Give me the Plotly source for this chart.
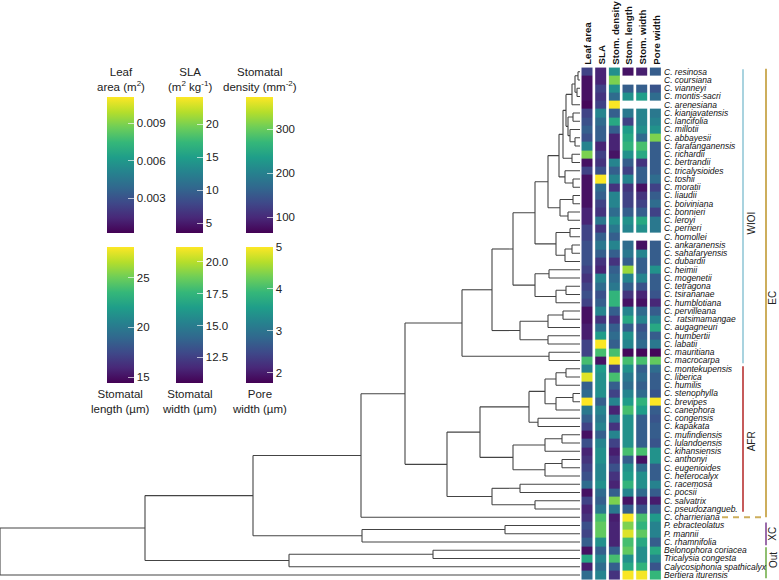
import plotly.graph_objects as go

W, H = 779, 580
FONT = "Liberation Sans"

species = [
    "C. resinosa", "C. coursiana", "C. vianneyi", "C. montis-sacri", "C. arenesiana",
    "C. kianjavatensis", "C. lancifolia", "C. millotii", "C. abbayesii", "C. farafanganensis",
    "C. richardii", "C. bertrandii", "C. tricalysioides", "C. toshii", "C. moratii",
    "C. liaudii", "C. boiviniana", "C. bonnieri", "C. leroyi", "C. perrieri",
    "C. homollei", "C. ankaranensis", "C. sahafaryensis", "C. dubardii", "C. heimii",
    "C. mogenetii", "C. tetragona", "C. tsirananae", "C. humblotiana", "C. pervilleana",
    "C.\u00a0 ratsimamangae", "C. augagneuri", "C. humbertii", "C. labatii", "C. mauritiana",
    "C. macrocarpa", "C. montekupensis", "C. liberica", "C. humilis", "C. stenophylla",
    "C. brevipes", "C. canephora", "C. congensis", "C. kapakata", "C. mufindiensis",
    "C. lulandoensis", "C. kihansiensis", "C. anthonyi", "C. eugenioides", "C. heterocalyx",
    "C. racemosa", "C. pocsii", "C. salvatrix", "C. pseudozangueb.", "C. charrieriana",
    "P. ebracteolatus", "P. mannii", "C. rhamnifolia", "Belonophora coriacea", "Tricalysia congesta",
    "Calycosiphonia spathicalyx", "Bertiera iturensis",
]

trait_names = ["Leaf area", "SLA", "Stom. density", "Stom. length", "Stom. width", "Pore width"]

leaf_area = [0.0024, 0.0007, 0.0007, 0.0007, 0.0004, 0.0024, 0.0029, 0.0035, 0.0029, 0.0051,
             0.0089, 0.0007, 0.0024, 0.0007, 0.0007, 0.0007, 0.0007, 0.0013, 0.0013, 0.0024,
             0.0024, 0.0029, 0.0029, 0.0029, 0.0024, 0.0018, 0.0024, 0.0029, 0.0024, 0.0007,
             0.0007, 0.0011, 0.0011, 0.0024, 0.0024, 0.0078, 0.0051, 0.0106, 0.0035, 0.0040,
             0.0111, 0.0046, 0.0035, 0.0024, 0.0007, 0.0029, 0.0013, 0.0018, 0.0024, 0.0029,
             0.0040, 0.0007, 0.0024, 0.0013, 0.0018, 0.0029, 0.0024, 0.0035, 0.0007, 0.0067,
             0.0011, 0.0040]
sla = [5.6, 5.6, 7.6, 6.6, 7.6, 12.8, 10.7, 9.7, 9.7, 5.6,
       7.6, 6.6, 8.7, 24.0, 10.7, 9.7, 7.6, 6.6, 11.7, 6.6,
       9.7, 11.7, 9.7, 6.6, 5.6, 12.8, 10.7, 8.7, 9.7, 12.8,
       6.6, 10.7, 14.8, 24.0, 17.9, 4.5, 14.8, 13.8, 13.8, 13.8,
       9.7, 12.8, 11.7, 12.8, 9.7, 12.8, 13.8, 13.8, 12.8, 12.8,
       13.8, 10.7, 9.7, 11.7, 17.9, 19.0, 19.0, 13.8, 9.7, 12.8,
       10.7, 12.8]
stom_density = [219, 312, 219, 173, 372, 157, 250, 157, 95, 95,
                80, 204, 157, 204, 110, 204, 204, 173, 219, 188,
                157, 204, 157, 110, 157, 173, 188, 266, 266, 157,
                110, 157, 173, 157, 281, 372, 126, 281, 157, 126,
                204, 95, 188, 110, 204, 126, 89, 110, 142, 110,
                95, 157, 312, 188, 89, 95, 95, 95, 157, 281,
                157, 110]
stom_length = [15.1, None, 18.5, 21.3, None, 19.9, 17.1, 21.9, 22.6, 23.3,
               21.3, 18.5, 17.1, 20.6, 16.5, 17.1, 17.1, 18.5, 21.3, 20.6,
               None, 19.2, 19.9, 18.5, 26.0, 20.6, 18.5, 16.5, 15.1, 20.6,
               22.6, 18.5, 21.3, 20.6, 14.7, 24.0, 21.3, 19.9, 19.2, 20.6,
               21.9, 24.0, 21.3, 21.3, 21.3, 21.3, 24.0, 18.5, 21.3, 21.9,
               23.3, 20.6, 15.1, 18.5, 28.0, 25.4, 27.4, 24.0, 24.7, 21.3,
               22.6, 28.0]
stom_width = [11.4, None, 13.7, 16.4, None, 15.3, 15.3, 15.8, 14.2, 18.0,
              16.9, 12.1, 13.7, 13.7, 11.0, 12.1, 12.6, 13.7, 16.9, 15.8,
              None, 11.0, 15.3, 13.7, 13.7, 15.3, 13.2, 11.6, 11.0, 14.2,
              15.3, 13.2, 13.7, 14.2, 10.7, 18.0, 13.7, 14.2, 13.7, 14.2,
              17.4, 16.4, 13.7, 13.7, 13.7, 13.7, 18.0, 11.0, 14.2, 15.8,
              15.8, 14.2, 11.4, 13.2, 18.0, 17.4, 18.5, 16.9, 15.8, 15.8,
              17.4, 21.0]
pore_width = [2.7, None, 2.6, 2.9, None, 3.05, 3.2, 3.4, 4.35, 2.7,
              2.7, 2.7, 2.7, 2.9, 2.4, 2.7, 2.9, 2.4, 3.05, 3.05,
              None, 2.7, 2.7, 2.7, 3.4, 2.7, 2.7, 2.6, 2.1, 2.7,
              3.2, 3.7, 2.7, 3.05, 1.8, 4.2, 2.9, 2.7, 2.7, 2.6,
              5.0, 2.7, 2.6, 2.7, 2.7, 2.6, 3.4, 3.4, 2.7, 2.7,
              3.2, 2.7, 2.0, 2.7, 3.5, 3.2, 3.2, 2.7, 3.7, 3.2,
              2.6, 3.9]

# colour-scale ranges and ticks of each legend
scale_min = [0.0002, 3.5, 64, 14.4, 10.5, 1.75]
scale_max = [0.0111, 24.1, 374, 28.1, 21.15, 5.0]
tick_vals = [[0.003, 0.006, 0.009], [5, 10, 15, 20], [100, 200, 300],
             [15, 20, 25], [12.5, 15.0, 17.5, 20.0], [2, 3, 4, 5]]
tick_fmt = [".3f", "d", "d", "d", ".1f", "d"]
legend_titles = ["Leaf<br>area (m<sup>2</sup>)", "SLA<br>(m<sup>2</sup> kg<sup>-1</sup>)",
                 "Stomatal<br>density (mm<sup>-2</sup>)", "Stomatal<br>length (µm)",
                 "Stomatal<br>width (µm)", "Pore<br>width (µm)"]

# phylogeny: (node depth, [children]); ints are tip numbers (1 = top row)
TIP_DEPTH = 580
C_top = (563, [
    (566, [(572, [(575, [(578, [1, 2]), (577, [3, 4])]), 5]),
           (568, [(573, [6, 7]), (570, [8, (575, [9, 10])])])]),
    (572, [11, 12]),
])
N_X = (548, [
    (559, [C_top, (565, [13, (573, [14, 15])])]),
    (560, [(573, [16, 17]), (568, [18, 19])]),
])
W2a = (535, [N_X, (556, [(570, [20, 21]), (565, [(572, [22, 23]), 24])])])
W2b = (535, [(549, [25, 26]), (556, [(566, [27, 28]), 29])])
WIOI = (462, [
    (492, [(513, [W2a, W2b]),
           (520, [(548, [(563, [30, 31]), 32]), (548, [33, 34])])]),
    (549, [35, 36]),
])
AFR = (447, [
    (480, [
        (529, [(545, [(556, [(566, [37, 38]), 39]), (556, [(573, [40, 41]), 42])]),
               (538, [43, 44])]),
        (513, [(545, [(562, [45, 46]), 47]), (545, [(562, [48, 49]), 50])]),
    ]),
    (492, [(520, [51, 52]), (535, [53, 54])]),
])
TREE = (0, [
    (145, [
        (253, [
            (361, [(405, [WIOI, AFR]), 55]),
            (362, [(505, [56, 57]), 58]),
        ]),
        (289, [(433, [59, 60]), 61]),
    ]),
    62,
])

# clades: (label, first tip, last tip, colour)
clades_inner = [("WIOI", 1, 36, "#a9d3df"), ("AFR", 37, 54, "#c65b5b")]
clades_outer = [("EC", 1, 55, "#cdae5c"), ("XC", 56, 58, "#9b6cab"), ("Out", 59, 62, "#8fbf70")]
label_pos = {"WIOI": 18.4, "AFR": 44.8, "EC": 27.4, "XC": 56.0, "Out": 59.2}

# ---------------------------------------------------------------- tree segments
xs, ys = [], []


def walk(node):
    if isinstance(node, int):
        return TIP_DEPTH, node - 1
    depth, children = node
    cys = []
    for c in children:
        cx, cy = walk(c)
        xs.extend([depth, cx, None])
        ys.extend([cy, cy, None])
        cys.append(cy)
    xs.extend([depth, depth, None])
    ys.extend([min(cys), max(cys), None])
    return depth, (min(cys) + max(cys)) / 2


walk(TREE)

fig = go.Figure()
fig.add_trace(go.Scatter(x=xs, y=ys, mode="lines", line=dict(color="#444444", width=1.1),
                         hoverinfo="skip", showlegend=False, xaxis="x", yaxis="y"))

rows = list(range(len(species)))
traits = [leaf_area, sla, stom_density, stom_length, stom_width, pore_width]

PAD_TOP = 71.7
ROW_H = 8.25
CB_LEN, CB_THICK = 136, 27
cb_x = [107, 176, 246]
cb_y = [97, 247]
shapes = []
for k, vals in enumerate(traits):
    cx = cb_x[k % 3]
    cy = cb_y[k // 3]
    fig.add_trace(go.Heatmap(
        x=[k], y=rows, z=[[v] for v in vals], xgap=3,
        colorscale="Viridis", zmin=scale_min[k], zmax=scale_max[k],
        xaxis="x2", yaxis="y", hoverinfo="skip",
        colorbar=dict(
            x=cx / W, xanchor="left", y=1 - cy / H, yanchor="top",
            len=CB_LEN, lenmode="pixels", thickness=CB_THICK, thicknessmode="pixels",
            xpad=0, ypad=0, outlinewidth=0,
            ticks="inside", ticklen=6, tickwidth=1, tickcolor="rgba(255,255,255,0.65)",
            tickvals=tick_vals[k], tickformat=tick_fmt[k],
            tickfont=dict(family=FONT, size=11.5, color="#222222"),
        ),
    ))
    # matching tick marks on the left edge of each colour bar
    for tv in tick_vals[k]:
        frac = (tv - scale_min[k]) / (scale_max[k] - scale_min[k])
        yp = 1 - (cy + (1 - frac) * CB_LEN) / H
        shapes.append(dict(type="line", xref="paper", yref="paper", x0=cx / W, x1=(cx + 6) / W,
                           y0=yp, y1=yp, line=dict(color="rgba(255,255,255,0.65)", width=1)))
    if k < 3:
        fig.add_annotation(text=legend_titles[k], xref="paper", yref="paper",
                           x=(cx + CB_THICK / 2) / W, y=1 - 95 / H, xanchor="center",
                           yanchor="bottom", showarrow=False,
                           font=dict(family=FONT, size=11.5, color="#222222"))
    else:
        fig.add_annotation(text=legend_titles[k], xref="paper", yref="paper",
                           x=(cx + CB_THICK / 2) / W, y=1 - 386 / H, xanchor="center",
                           yanchor="top", showarrow=False,
                           font=dict(family=FONT, size=11.5, color="#222222"))
    fig.add_annotation(text="<b>%s</b>" % trait_names[k], xref="x2", yref="paper",
                       x=k, y=1 - 66 / H, xanchor="center", yanchor="bottom", textangle=-90,
                       borderpad=0, showarrow=False,
                       font=dict(family=FONT, size=9.7, color="#111111"))

for i, name in enumerate(species):
    fig.add_annotation(text="<i>%s</i>" % name, xref="paper", yref="y", x=662.5 / W, y=i,
                       xanchor="left", yanchor="middle", showarrow=False, borderpad=0,
                       font=dict(family=FONT, size=8.5, color="#111111"))

XI, XO = 743, 766
for name, a, b, col in clades_inner:
    shapes.append(dict(type="line", xref="paper", yref="y", x0=XI / W, x1=XI / W,
                       y0=a - 1 - 0.3, y1=b - 1 + 0.35, line=dict(color=col, width=2)))
    fig.add_annotation(text=name, xref="paper", yref="y", x=751 / W, y=label_pos[name],
                       xanchor="center", yanchor="middle", textangle=-90, showarrow=False,
                       font=dict(family=FONT, size=10, color="#222222"))
for name, a, b, col in clades_outer:
    y1 = b - 1 if name == "EC" else b - 1 + 0.4
    shapes.append(dict(type="line", xref="paper", yref="y", x0=XO / W, x1=XO / W,
                       y0=a - 1 - 0.35, y1=y1, line=dict(color=col, width=2)))
    fig.add_annotation(text=name, xref="paper", yref="y", x=773 / W, y=label_pos[name],
                       xanchor="center", yanchor="middle", textangle=-90, showarrow=False,
                       font=dict(family=FONT, size=10, color="#222222"))
# dashed link of C. charrieriana into EC
shapes.append(dict(type="line", xref="paper", yref="y", x0=722 / W, x1=XO / W,
                   y0=54, y1=54, line=dict(color="#cdae5c", width=2, dash="6px,5px")))

fig.update_layout(
    shapes=shapes,
    width=W, height=H, margin=dict(l=0, r=0, t=0, b=0),
    paper_bgcolor="white", plot_bgcolor="white",
    xaxis=dict(domain=[0, 580.5 / W], range=[0, 580.5], visible=False, fixedrange=True),
    xaxis2=dict(domain=[580.5 / W, 662.5 / W], range=[-0.5, 5.5], visible=False),
    yaxis=dict(range=[(H - PAD_TOP) / ROW_H, -PAD_TOP / ROW_H], visible=False),
    showlegend=False,
)

fig.write_html("out.html", config={"displayModeBar": False},
               post_script="document.body.style.margin='0';document.body.style.overflow='hidden';")
